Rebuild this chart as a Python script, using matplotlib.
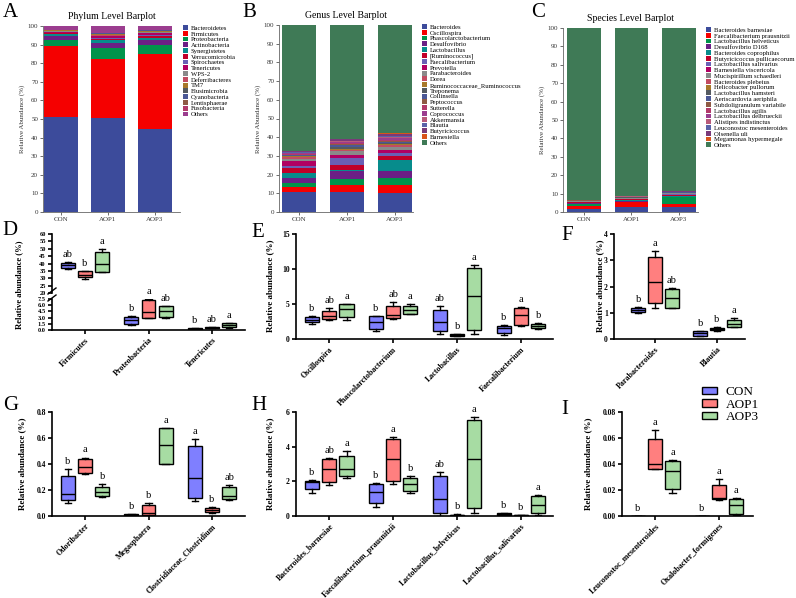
import numpy as np
import matplotlib.pyplot as plt
from matplotlib.patches import Patch
from matplotlib.ticker import FormatStrFormatter

plt.rcParams['font.family'] = 'serif'
plt.rcParams['font.serif'] = ['Liberation Serif', 'DejaVu Serif']

# ---------------- data: stacked barplots ----------------
groups = ["CON", "AOP1", "AOP3"]

phylum_names = ["Bacteroidetes", "Firmicutes", "Proteobacteria", "Actinobacteria", "Synergistetes",
                "Verrucomicrobia", "Spirochaetes", "Tenericutes", "WPS-2", "Deferribacteres", "TM7",
                "Elusimicrobia", "Cyanobacteria", "Lentisphaerae", "Fusobacteria", "Others"]
phylum_con = [51, 38, 3.5, 2.0, 1.3, 0.3, 0.3, 0.3, 0.5, 0.2, 0.2, 0.1, 0.1, 0.1, 0.1, 2.0]
phylum_aop1 = [50.5, 32, 5.5, 2.8, 1.7, 0.5, 0.8, 0.6, 0.4, 0.5, 0.3, 0.2, 0.2, 0.1, 0.1, 3.8]
phylum_aop3 = [44.5, 40.5, 5.0, 2.3, 1.2, 1.2, 0.4, 1.1, 0.4, 0.3, 0.4, 0.1, 0.2, 0.1, 0.1, 2.2]

genus_names = ["Bacteroides", "Oscillospira", "Phascolarctobacterium", "Desulfovibrio", "Lactobacillus",
               "[Ruminococcus]", "Faecalibacterium", "Prevotella", "Parabacteroides", "Dorea",
               "Ruminococcaceae_Ruminococcus", "Treponema", "Collinsella", "Peptococcus", "Sutterella",
               "Coprococcus", "Akkermansia", "Blautia", "Butyricicoccus", "Barnesiella", "Others"]
genus_con = [10.9, 2.7, 2.1, 2.3, 2.7, 2.6, 1.3, 2.8, 1.2, 0.6, 0.5, 0.3, 0.3, 0.3, 0.3, 0.5, 0.2, 0.3, 0.5, 0.3, 67.3]
genus_aop1 = [10.9, 3.3, 3.4, 4.3, 0.5, 2.7, 4.0, 1.4, 2.1, 0.6, 0.6, 1.2, 0.8, 0.4, 0.6, 0.7, 0.3, 0.4, 0.6, 0.3, 60.9]
genus_aop3 = [10.3, 4.0, 4.1, 3.7, 5.7, 2.1, 1.8, 1.5, 1.7, 0.7, 0.8, 0.5, 0.6, 0.5, 0.5, 0.9, 0.8, 0.6, 0.8, 0.5, 57.9]

species_names = ["Bacteroides barnesiae", "Faecalibacterium prausnitzii", "Lactobacillus helveticus",
                 "Desulfovibrio D168", "Bacteroides coprophilus", "Butyricicoccus pullicaecorum",
                 "Lactobacillus salivarius", "Barnesiella viscericola", "Mucispirillum schaedleri",
                 "Bacteroides plebeius", "Helicobacter pullorum", "Lactobacillus hamsteri",
                 "Aeriscardovia aeriphila", "Subdoligranulum variabile", "Lactobacillus agilis",
                 "Lactobacillus delbrueckii", "Alistipes indistinctus", "Leuconostoc mesenteroides",
                 "Olsenella uli", "Megamonas hypermegale", "Others"]
species_con = [1.8, 1.4, 1.0, 0.5, 0.3, 0.3, 0.1, 0.2, 0.2, 0.1, 0.1, 0.1, 0.1, 0.1, 0.1, 0.1, 0.1, 0.0, 0.1, 0.05, 93.15]
species_aop1 = [2.5, 3.0, 0.1, 0.6, 0.4, 0.3, 0.1, 0.3, 0.2, 0.2, 0.1, 0.1, 0.1, 0.1, 0.1, 0.1, 0.2, 0.05, 0.1, 0.05, 91.3]
species_aop3 = [2.8, 1.8, 3.3, 0.5, 0.4, 0.3, 0.6, 0.2, 0.2, 0.2, 0.1, 0.1, 0.1, 0.1, 0.1, 0.1, 0.2, 0.03, 0.1, 0.07, 88.7]

palette = ["#3c4b9b", "#f50000", "#00934b", "#6b1f85", "#078c8c", "#c0002a", "#6a5fb5", "#b10062",
           "#8a8a8a", "#c24b62", "#a8782a", "#545a60", "#4b5896", "#8e5a44", "#b23a6a", "#9b3d8f",
           "#b85a7a", "#5a62a8", "#7a3a7a", "#d9541a"]
phylum_colors = palette[:15] + ["#9b3d8f"]
genus_colors = palette + ["#3f7a56"]

# ---------------- data: box plots [min, q1, median, q3, max] ----------------
box_colors = ["#7f7fff", "#ff7f7f", "#a7dca3"]

d_taxa = ["Firmicutes", "Proteobacteria", "Tenericutes"]
d_con = [[36.5, 37.0, 38.8, 40.3, 41.2], [1.2, 1.4, 2.3, 3.1, 3.3], [0.15, 0.2, 0.3, 0.4, 0.45]]
d_aop1 = [[29.7, 30.6, 32.4, 34.7, 35.1], [2.9, 3.0, 4.3, 7.2, 7.4], [0.45, 0.5, 0.6, 0.75, 0.8]]
d_aop3 = [[34.0, 34.3, 39.7, 47.8, 49.6], [2.9, 3.1, 4.5, 5.7, 5.9], [0.55, 0.7, 1.1, 1.75, 1.8]]
d_sig = [["ab", "b", "a"], ["b", "a", "ab"], ["b", "ab", "a"]]

e_taxa = ["Oscillospira", "Phascolarctobacterium", "Lactobacillus", "Faecalibacterium"]
e_con = [[2.2, 2.38, 2.76, 3.14, 3.24], [1.1, 1.48, 2.38, 3.24, 3.24], [0.76, 1.14, 2.43, 4.19, 4.67], [0.62, 0.86, 1.62, 1.9, 1.95]]
e_aop1 = [[2.67, 2.86, 3.33, 3.95, 4.43], [2.9, 3.0, 3.43, 4.67, 5.24], [0.43, 0.48, 0.57, 0.67, 0.71], [1.9, 1.95, 3.43, 4.43, 4.57]]
e_aop3 = [[2.76, 3.14, 4.33, 5.0, 5.0], [3.57, 3.57, 4.19, 4.76, 5.0], [0.67, 1.33, 6.1, 10.14, 10.52], [1.4, 1.6, 1.9, 2.2, 2.3]]
e_sig = [["b", "ab", "a"], ["b", "ab", "a"], ["ab", "b", "a"], ["b", "a", "b"]]

f_taxa = ["Parabacteroides", "Blautia"]
f_con = [[0.99, 1.02, 1.12, 1.18, 1.22], [0.1, 0.13, 0.23, 0.29, 0.32]]
f_aop1 = [[1.18, 1.37, 2.16, 3.11, 3.34], [0.3, 0.33, 0.38, 0.42, 0.44]]
f_aop3 = [[1.18, 1.2, 1.56, 1.9, 1.94], [0.44, 0.46, 0.58, 0.71, 0.8]]
f_sig = [["b", "a", "ab"], ["b", "b", "a"]]

g_taxa = ["Odoribacter", "Megasphaera", "Clostridiaceae_Clostridium"]
g_con = [[0.103, 0.123, 0.17, 0.309, 0.36], [0.0, 0.003, 0.008, 0.013, 0.018], [0.113, 0.139, 0.29, 0.535, 0.59]]
g_aop1 = [[0.324, 0.334, 0.38, 0.437, 0.45], [0.003, 0.008, 0.026, 0.085, 0.103], [0.026, 0.033, 0.046, 0.059, 0.067]]
g_aop3 = [[0.144, 0.154, 0.188, 0.226, 0.244], [0.4, 0.4, 0.545, 0.674, 0.68], [0.126, 0.131, 0.157, 0.221, 0.237]]
g_sig = [["b", "a", "b"], ["b", "b", "a"], ["a", "b", "ab"]]

h_taxa = ["Bacteroides_barnesiae", "Faecalibacterium_prausnitzii", "Lactobacillus_helveticus", "Lactobacillus_salivarius"]
h_con = [[1.31, 1.54, 1.98, 2.03, 2.08], [0.54, 0.73, 1.41, 1.83, 1.89], [0.02, 0.15, 0.96, 2.28, 2.51], [0.02, 0.04, 0.1, 0.15, 0.19]]
h_aop1 = [[1.79, 1.99, 2.74, 3.28, 3.34], [1.85, 2.03, 3.28, 4.44, 4.53], [0.0, 0.02, 0.06, 0.08, 0.1], [0.0, 0.02, 0.04, 0.06, 0.08]]
h_aop3 = [[2.22, 2.31, 2.74, 3.49, 3.76], [1.31, 1.47, 1.83, 2.18, 2.28], [0.15, 0.48, 3.28, 5.56, 5.71], [0.05, 0.2, 0.62, 1.18, 1.22]]
h_sig = [["b", "ab", "a"], ["b", "a", "b"], ["ab", "b", "a"], ["b", "b", "a"]]

i_taxa = ["Leuconostoc_mesenteroides", "Oxalobacter_formigenes"]
i_con = [[0, 0, 0, 0, 0], [0, 0, 0, 0, 0]]
i_aop1 = [[0.036, 0.0362, 0.0398, 0.0594, 0.0658], [0.0123, 0.0129, 0.0141, 0.0242, 0.0283]]
i_aop3 = [[0.0175, 0.0206, 0.0344, 0.0422, 0.0432], [0.0005, 0.0015, 0.0087, 0.0131, 0.0136]]
i_sig = [["b", "a", "a"], ["b", "a", "a"]]

W, H = 796, 598
fig = plt.figure(figsize=(W / 100, H / 100), dpi=100)


def add_ax(x0, y0, x1, y1):
    # axes placed in pixel coords measured from the top-left corner
    return fig.add_axes([x0 / W, 1 - y1 / H, (x1 - x0) / W, (y1 - y0) / H])


def stacked(box, names, cols, colors, title, xlim, leg_xy):
    ax = add_ax(*box)
    x = np.arange(len(groups))
    vals = np.array(cols).T
    bottom = np.zeros(len(groups))
    for name, row, c in zip(names, vals, colors):
        ax.bar(x, row, 0.71, bottom=bottom, color=c, label=name, linewidth=0)
        bottom += row
    ax.set_xlim(xlim)
    ax.set_ylim(0, 100)
    ax.set_xticks(x, groups)
    ax.set_yticks(np.arange(0, 101, 10))
    ax.tick_params(labelsize=5, length=2, width=0.5, colors='#333333', pad=1.5)
    for s in ['top', 'right']:
        ax.spines[s].set_visible(False)
    for s in ['left', 'bottom']:
        ax.spines[s].set_linewidth(0.6)
        ax.spines[s].set_color('#666666')
    ax.set_ylabel("Relative Abundance (%)", fontsize=5, labelpad=2, color='#333333')
    ax.set_title(title, fontsize=7, pad=5)
    ax.legend(loc='upper left', bbox_to_anchor=(leg_xy[0] / W, 1 - leg_xy[1] / H),
              bbox_transform=fig.transFigure, frameon=False, fontsize=4.8,
              handlelength=0.75, handleheight=0.75, labelspacing=0.0,
              handletextpad=0.4, borderaxespad=0, borderpad=0)
    return ax


stacked((43, 26, 180, 212), phylum_names, [phylum_con, phylum_aop1, phylum_aop3],
        phylum_colors, "Phylum Level Barplot", (-0.38, 2.53), (183, 25))
stacked((279, 25, 413, 212), genus_names, [genus_con, genus_aop1, genus_aop3],
        genus_colors, "Genus Level Barplot", (-0.42, 2.375), (422, 24))
stacked((563, 28, 698, 212), species_names, [species_con, species_aop1, species_aop3],
        genus_colors, "Species Level Barplot", (-0.44, 2.4), (706, 27))


def style(ax, spines=('left', 'bottom'), ysize=5.5):
    for s in ['top', 'right', 'left', 'bottom']:
        ax.spines[s].set_visible(s in spines)
        ax.spines[s].set_linewidth(1.2)
    ax.tick_params(width=1.2, length=3, pad=1.5)
    for t in ax.get_yticklabels():
        t.set_fontsize(ysize)
        t.set_fontweight('bold')


def boxes(ax, taxa, data, sig, xlim, ylim, yticks, fmt, xlabels=True):
    offs = [-0.27, 0, 0.27]
    for gi in range(3):
        stats = [dict(whislo=s[0], q1=s[1], med=s[2], q3=s[3], whishi=s[4]) for s in data[gi]]
        pos = np.arange(len(taxa)) + offs[gi]
        ax.bxp(stats, positions=pos, widths=0.22, capwidths=0.1, patch_artist=True,
               showfliers=False, manage_ticks=False,
               boxprops=dict(facecolor=box_colors[gi], edgecolor='black', linewidth=1.0),
               medianprops=dict(color='black', linewidth=1.0),
               whiskerprops=dict(color='black', linewidth=1.0),
               capprops=dict(color='black', linewidth=1.0))
        for x, s, t in zip(pos, data[gi], sig):
            ax.annotate(t[gi], (x, s[4]), xytext=(0, 2.2), textcoords='offset points',
                        ha='center', va='bottom', fontsize=7.5)
    ax.set_xlim(xlim)
    ax.set_ylim(ylim)
    ax.set_yticks(yticks)
    ax.yaxis.set_major_formatter(FormatStrFormatter(fmt))
    if xlabels:
        ax.set_xticks(np.arange(len(taxa)))
        ax.set_xticklabels(taxa, rotation=45, ha='right', rotation_mode='anchor',
                           fontsize=5.8, fontweight='bold')
    else:
        ax.set_xticks([])


def ylab(x, y, size=6.5):
    fig.text(x / W, 1 - y / H, "Relative abundance (%)", rotation=90, ha='center', va='center',
             fontsize=size, fontweight='bold')


# D: broken axis
d_data = [d_con, d_aop1, d_aop3]
ax_du = add_ax(52, 234, 245, 293)
boxes(ax_du, d_taxa, d_data, d_sig, (-0.52, 2.52), (20, 60), np.arange(20, 61, 5), '%d', xlabels=False)
style(ax_du, spines=('left',), ysize=4.6)
ax_dl = add_ax(52, 299, 245, 330)
boxes(ax_dl, d_taxa, d_data, d_sig, (-0.52, 2.52), (0, 7.5), np.arange(0, 7.6, 1.5), '%.1f')
style(ax_dl, ysize=4.6)
for yy in (291, 298):
    fig.add_artist(plt.Line2D([48 / W, 56 / W], [1 - (yy + 3) / H, 1 - (yy - 3) / H],
                              color='black', lw=1.0))
ylab(19, 285, size=6.2)

ax_e = add_ax(296, 234, 553, 339)
boxes(ax_e, e_taxa, [e_con, e_aop1, e_aop3], e_sig, (-0.52, 3.5), (0, 15), [0, 5, 10, 15], '%d')
style(ax_e)
ylab(270, 286)

ax_f = add_ax(614, 234, 745, 339)
boxes(ax_f, f_taxa, [f_con, f_aop1, f_aop3], f_sig, (-0.66, 1.45), (0, 4), [0, 1, 2, 3, 4], '%d')
style(ax_f)
ylab(600, 286)

ax_g = add_ax(52, 412, 245, 516)
boxes(ax_g, g_taxa, [g_con, g_aop1, g_aop3], g_sig, (-0.52, 2.52), (0, 0.8), [0, 0.2, 0.4, 0.6, 0.8], '%.1f')
style(ax_g)
ylab(22, 464)

ax_h = add_ax(296, 412, 553, 516)
boxes(ax_h, h_taxa, [h_con, h_aop1, h_aop3], h_sig, (-0.52, 3.5), (0, 6), [0, 2, 4, 6], '%d')
style(ax_h)
ylab(270, 464)

ax_i = add_ax(622, 412, 753, 516)
boxes(ax_i, i_taxa, [i_con, i_aop1, i_aop3], i_sig, (-0.52, 1.53), (0, 0.08), [0, 0.02, 0.04, 0.06, 0.08], '%.2f')
style(ax_i)
ylab(588, 464)

# group legend
handles = [Patch(facecolor=c, edgecolor='black', linewidth=1.0) for c in box_colors]
fig.legend(handles, groups, loc='upper left', bbox_to_anchor=(702 / W, 1 - 386 / H),
           frameon=False, fontsize=9.5, handlelength=1.1, handleheight=0.45,
           labelspacing=0.05, handletextpad=0.7, borderpad=0, borderaxespad=0)

# panel letters
for lab, x, y in [("A", 3, 3), ("B", 242, 3), ("C", 531, 3), ("D", 2, 221), ("E", 251, 223),
                  ("F", 561, 226), ("G", 3, 396), ("H", 251, 396), ("I", 561, 400)]:
    fig.text(x / W, 1 - y / H, lab, fontsize=15, ha='left', va='top')

fig.savefig("out.png", dpi=100)
